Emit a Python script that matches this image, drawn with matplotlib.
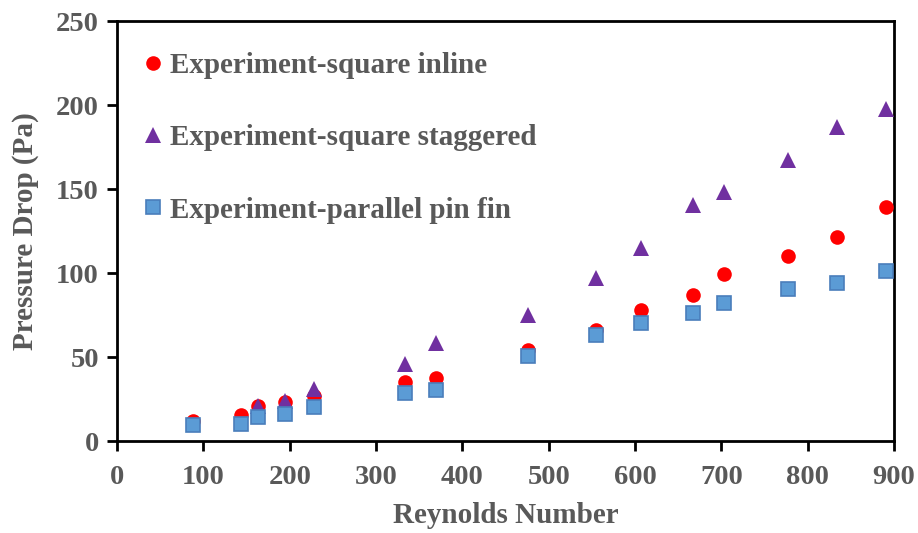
import matplotlib
matplotlib.use("Agg")
import matplotlib.pyplot as plt

plt.rcParams['font.family'] = ['Liberation Serif', 'DejaVu Serif']
plt.rcParams['font.weight'] = 'bold'
plt.rcParams['axes.labelweight'] = 'bold'

grey = '#595959'

# 数据
re_inline = [88, 143, 163, 194, 228, 333, 370, 476, 555, 607, 667, 703, 777, 834, 891]
dp_inline = [12, 15.5, 21, 23, 27, 35, 37.5, 54, 66, 78, 87, 99.5, 110, 121.5, 139]

re_stag = [163, 194, 228, 333, 370, 476, 555, 607, 667, 703, 777, 834, 891]
dp_stag = [21, 24, 31, 46, 58.5, 75, 97, 115, 140.5, 148, 167, 187, 197.5]

re_par = [88, 143, 163, 194, 228, 333, 370, 476, 555, 607, 667, 703, 777, 834, 891]
dp_par = [9.7, 10, 14.5, 16, 20.4, 28.5, 30.4, 50.6, 63, 70, 76.4, 82.3, 90.5, 94, 101]

xticks = [0, 100, 200, 300, 400, 500, 600, 700, 800, 900]
yticks = [0, 50, 100, 150, 200, 250]

fig = plt.figure(figsize=(9.18, 5.33), dpi=100)
ax = fig.add_axes([0.1275, 0.1726, 0.8464, 0.788])

ax.plot(re_inline, dp_inline, 'o', color='#FF0000', markersize=10.5,
        markeredgewidth=0, label='Experiment-square inline', zorder=3)
ax.plot(re_stag, dp_stag, '^', color='#7030A0', markersize=11,
        markeredgewidth=0, label='Experiment-square staggered', zorder=4)
ax.plot(re_par, dp_par, 's', color='#5B9BD5', markersize=10.5,
        markeredgecolor='#4A7EBB', markeredgewidth=1.2,
        label='Experiment-parallel pin fin', zorder=5)

ax.set_xlim(0, 900)
ax.set_ylim(0, 250)
ax.set_xticks(xticks)
ax.set_yticks(yticks)

for s in ax.spines.values():
    s.set_linewidth(2)
    s.set_color('black')
ax.tick_params(direction='out', length=7, width=2, labelsize=20.5,
               labelcolor=grey, pad=6)
ax.tick_params(axis='x', pad=10)

ax.set_xlabel('Reynolds Number', fontsize=21, color=grey, labelpad=9)
ax.set_ylabel('Pressure Drop (Pa)', fontsize=21, color=grey, labelpad=12)

leg = ax.legend(loc='upper left', bbox_to_anchor=(-0.003, 0.995), frameon=False,
                fontsize=21, handlelength=0.6, handletextpad=0.3,
                labelspacing=1.55, borderaxespad=0.6)
for t in leg.get_texts():
    t.set_color(grey)

fig.savefig('out.png', dpi=100)
